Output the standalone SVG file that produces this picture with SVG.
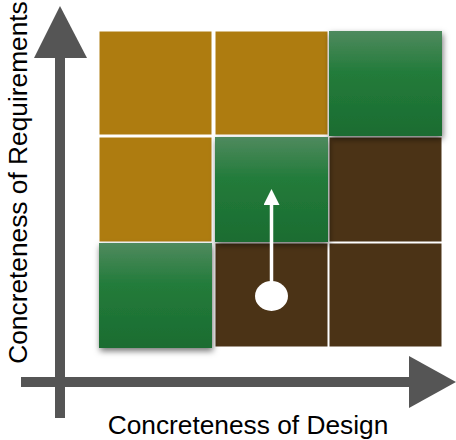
<svg xmlns="http://www.w3.org/2000/svg" width="456" height="440" viewBox="0 0 456 440">
<defs>
<linearGradient id="gGreen" x1="0" y1="0" x2="0" y2="1">
<stop offset="0" stop-color="#4f8a5e"/>
<stop offset="0.4" stop-color="#227b3a"/>
<stop offset="1" stop-color="#1c6c31"/>
</linearGradient>
<filter id="shadow" x="-20%" y="-20%" width="140%" height="140%">
<feDropShadow dx="1" dy="3" stdDeviation="3" flood-color="#000" flood-opacity="0.55"/>
</filter>
<marker id="wArrow" viewBox="0 0 16 16" refX="0" refY="8" markerWidth="16" markerHeight="16" markerUnits="userSpaceOnUse" orient="auto">
<polygon points="0,0 16,8 0,16" fill="#ffffff"/>
</marker>
</defs>
<style>
.gold{fill:#ae7c10;stroke:#ffffff;stroke-width:1}
.brown{fill:#4b3316;stroke:#ffffff;stroke-width:1}
.green{fill:url(#gGreen);filter:url(#shadow)}
.axis{fill:#555555}
.lbl{font-family:"Liberation Sans",Arial,sans-serif;font-size:26.3px;fill:#000000}
</style>
<g id="cell-r1c1"><rect class="gold" x="99" y="31" width="113" height="104"/></g>
<g id="cell-r1c2"><rect class="gold" x="215" y="31" width="113" height="104"/></g>
<g id="cell-r2c1"><rect class="gold" x="99" y="137" width="113" height="105"/></g>
<g id="cell-r2c3"><rect class="brown" x="329" y="137" width="113" height="105"/></g>
<g id="cell-r3c2"><rect class="brown" x="215" y="243" width="113" height="104"/></g>
<g id="cell-r3c3"><rect class="brown" x="329" y="243" width="113" height="104"/></g>
<g id="cell-r1c3"><rect class="green" x="329" y="31" width="113" height="105"/></g>
<g id="cell-r2c2"><rect class="green" x="215" y="137" width="113" height="105"/></g>
<g id="cell-r3c1"><rect class="green" x="99" y="243" width="113" height="105"/></g>
<g id="connectors">
<g id="axis-y"><rect class="axis" x="55" y="57" width="10" height="361"/><polygon class="axis" points="34,58 60,6 87,58"/></g>
<g id="axis-x"><rect class="axis" x="21" y="377" width="389" height="10"/><polygon class="axis" points="409,356 456,382 409,408"/></g>
<g id="move-arrow"><line x1="271.5" y1="290" x2="271.5" y2="205" stroke="#ffffff" stroke-width="3.5" marker-end="url(#wArrow)"/><ellipse cx="271.5" cy="296" rx="16.5" ry="15" fill="#ffffff"/></g>
</g>
<g id="label-x"><text class="lbl" x="248" y="434" text-anchor="middle">Concreteness of Design</text></g>
<g id="label-y"><text class="lbl" transform="translate(27,182.5) rotate(-90)" text-anchor="middle">Concreteness of Requirements</text></g>
</svg>
